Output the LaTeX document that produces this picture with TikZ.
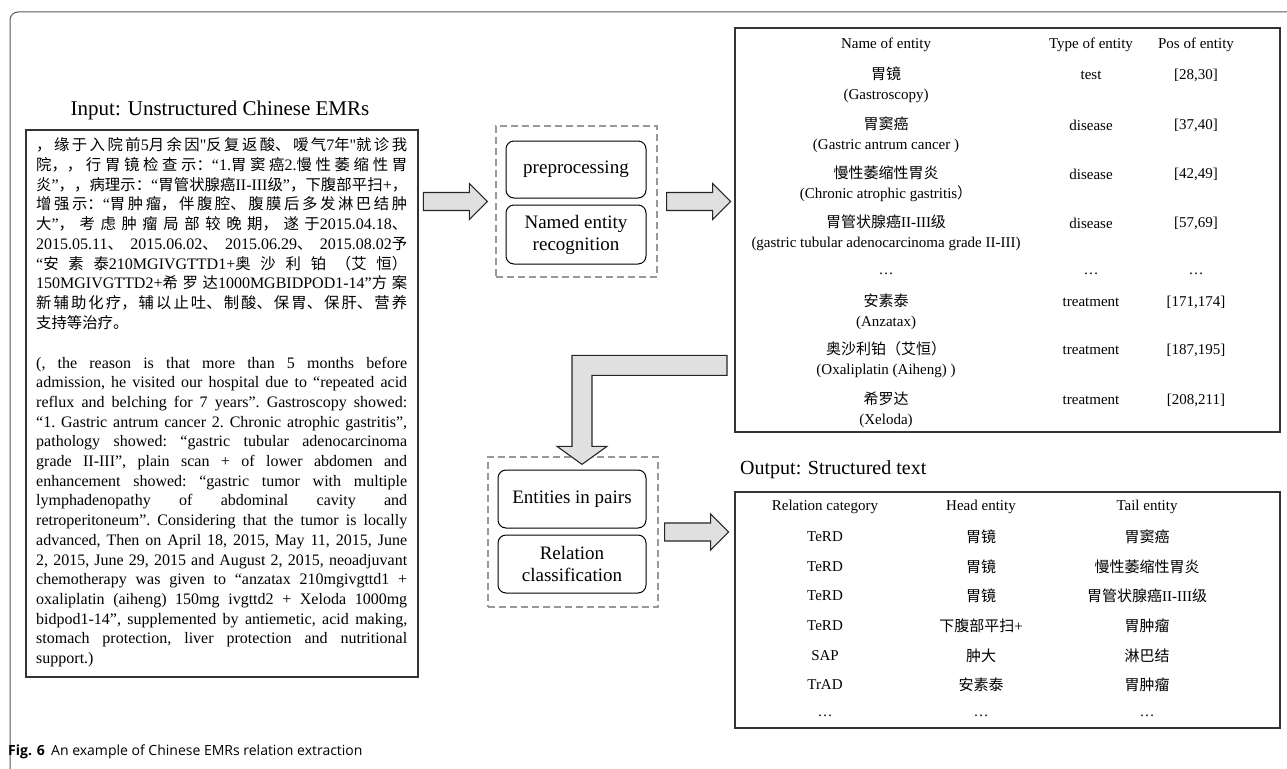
\documentclass[tikz,border=0pt]{standalone}
\usepackage{fontspec}
\setmainfont{Liberation Serif}
\newfontfamily\plainrm{Liberation Serif}
\newfontfamily\zhfont{Noto Sans CJK SC}
\newfontfamily\zhnarrow[Scale=0.96]{Noto Sans CJK SC}
\newfontfamily\capfont{Open Sans}
\usetikzlibrary{positioning}

% CJK characters switch to the CJK face by themselves
\let\zhcur\zhfont
\XeTeXinterchartokenstate=1
\newXeTeXintercharclass\zhclass
\count255="3000
\loop\XeTeXcharclass\count255=\zhclass \ifnum\count255<"303F \advance\count255 by 1 \repeat
\count255="4E00
\loop\XeTeXcharclass\count255=\zhclass \ifnum\count255<"9FFF \advance\count255 by 1 \repeat
\count255="FF00
\loop\XeTeXcharclass\count255=\zhclass \ifnum\count255<"FFEF \advance\count255 by 1 \repeat
\XeTeXinterchartoks 0 \zhclass = {\zhcur}
\XeTeXinterchartoks 4095 \zhclass = {\zhcur}
\XeTeXinterchartoks \zhclass 0 = {\rmfamily}
\XeTeXinterchartoks \zhclass 4095 = {\rmfamily}
\lineskiplimit=-30pt

\begin{document}
\begin{tikzpicture}[x=1pt, y=-1pt,
  tabbox/.style={draw=black!80, line width=1.3pt},
  cell/.style={font=\fontsize{15}{20}\selectfont, align=center, inner sep=0pt},
  title/.style={font=\fontsize{21}{24}\selectfont, inner sep=0pt},
  srctext/.style={anchor=base west, inner sep=0pt, text width=371pt, align=justify,
    font=\fontsize{16}{19.7}\selectfont},
  stagebox/.style={draw=black!40, dash pattern=on 7pt off 4pt, line width=1.3pt},
  stepbox/.style={draw, rounded corners=8pt, line width=1pt, align=center,
    font=\fontsize{19}{22}\selectfont, minimum width=140pt, inner sep=0pt}
]
\tikzset{
  blockarrow/.style={draw=black!85, fill=black!12, line width=1.1pt, line join=miter},
  frame/.style={draw=black!65, line width=1pt, rounded corners=8pt}
}
\fill[white] (0,0) rectangle (1287,768);
\useasboundingbox (0,0) rectangle (1287,768);
\draw[frame] (10,775) -- (10,12) -- (1295,12);

% input record
\node[title] (intitle) at (220,110) {Input: Unstructured Chinese EMRs};
\node[tabbox, line width=1.2pt, minimum width=392pt, minimum height=547pt] (src) at (222,403.5) {};
\node[srctext] (srczh) at (36,150.8) {%
\tolerance=10000 \let\zhcur\zhnarrow
\XeTeXlinebreaklocale "zh"\XeTeXlinebreakskip=0pt plus 3pt minus 0.5pt\relax
，缘于入院前5月余因{\plainrm"}反复返酸、嗳气7年{\plainrm"}就诊我\linebreak
院，，行胃镜检查示：“1.胃窦癌2.慢性萎缩性胃\linebreak
炎”，，病理示：“胃管状腺癌II-III级”，下腹部平扫+，\linebreak
增强示：“胃肿瘤，伴腹腔、腹膜后多发淋巴结肿\linebreak
大”，考虑肿瘤局部较晚期，遂于2015.04.18、\linebreak
2015.05.11、\hskip 0pt plus 3pt 2015.06.02、\hskip 0pt plus 3pt 2015.06.29、\hskip 0pt plus 3pt 2015.08.02予\linebreak
“安素泰210MGIVGTTD1+奥沙利铂（艾恒）\linebreak
150MGIVGTTD2+希罗达1000MGBIDPOD1-14”方案\linebreak
新辅助化疗，辅以止吐、制酸、保胃、保肝、营养\linebreak
支持等治疗。};
\node[srctext] (srcen) at (36,368) {%
\tolerance=10000 \frenchspacing
(, the reason is that more than 5 months before\linebreak
admission, he visited our hospital due to “repeated acid\linebreak
reflux and belching for 7 years”. Gastroscopy showed:\linebreak
“1. Gastric antrum cancer 2. Chronic atrophic gastritis”,\linebreak
pathology showed: “gastric tubular adenocarcinoma\linebreak
grade II-III”, plain scan + of lower abdomen and\linebreak
enhancement showed: “gastric tumor with multiple\linebreak
lymphadenopathy of abdominal cavity and\linebreak
retroperitoneum”. Considering that the tumor is locally\linebreak
advanced, Then on April 18, 2015, May 11, 2015, June\linebreak
2, 2015, June 29, 2015 and August 2, 2015, neoadjuvant\linebreak
chemotherapy was given to “anzatax 210mgivgttd1 +\linebreak
oxaliplatin (aiheng) 150mg ivgttd2 + Xeloda 1000mg\linebreak
bidpod1-14”, supplemented by antiemetic, acid making,\linebreak
stomach protection, liver protection and nutritional\linebreak
support.)};

% first stage
\node[stagebox, minimum width=161pt, minimum height=151pt] (stage1) at (576.5,201.5) {};
\node[stepbox, minimum height=57pt] (prep) at (576,169.5) {preprocessing};
\node[stepbox, minimum height=59pt, below=6pt of prep] (ner) {Named entity\\recognition};

% entity table
\node[tabbox, minimum width=545pt, minimum height=404pt] (enttab) at (1007.5,230) {};
\node[cell] (hname) at (886,45) {Name of entity};
\node[cell] (htype) at (1091,45) {Type of entity};
\node[cell] (hpos) at (1196,45) {Pos of entity};
\node[cell] (name1) at (886,85) {胃镜\\(Gastroscopy)};
\node[cell] (type1) at (1091,75) {test};
\node[cell] (pos1) at (1196,75) {[28,30]};
\node[cell] (name2) at (886,135) {胃窦癌\\(Gastric antrum cancer )};
\node[cell] (type2) at (1091,125) {disease};
\node[cell] (pos2) at (1196,125) {[37,40]};
\node[cell] (name3) at (886,184) {慢性萎缩性胃炎\\(Chronic atrophic gastritis）};
\node[cell] (type3) at (1091,174) {disease};
\node[cell] (pos3) at (1196,174) {[42,49]};
\node[cell] (name4) at (886,233) {胃管状腺癌II-III级\\(gastric tubular adenocarcinoma grade II-III)};
\node[cell] (type4) at (1091,223) {disease};
\node[cell] (pos4) at (1196,223) {[57,69]};
\node[cell] (name5) at (886,274) {…};
\node[cell] (type5) at (1091,274) {…};
\node[cell] (pos5) at (1196,274) {…};
\node[cell] (name6) at (886,312) {安素泰\\(Anzatax)};
\node[cell] (type6) at (1091,302) {treatment};
\node[cell] (pos6) at (1196,302) {[171,174]};
\node[cell] (name7) at (886,360) {奥沙利铂（艾恒）\\(Oxaliplatin (Aiheng) )};
\node[cell] (type7) at (1091,350) {treatment};
\node[cell] (pos7) at (1196,350) {[187,195]};
\node[cell] (name8) at (886,410) {希罗达\\(Xeloda)};
\node[cell] (type8) at (1091,400) {treatment};
\node[cell] (pos8) at (1196,400) {[208,211]};

% second stage
\node[stagebox, minimum width=170pt, minimum height=150pt] (stage2) at (573,532) {};
\node[stepbox, minimum width=148pt, minimum height=58pt] (pairs) at (572,499) {Entities in pairs};
\node[stepbox, minimum width=148pt, minimum height=58pt, below=6pt of pairs] (relcls) {Relation\\classification};

% relation table
\node[title, font=\fontsize{20}{24}\selectfont, anchor=west] (outtitle) at (740,470) {Output: Structured text};
\node[tabbox, minimum width=545pt, minimum height=236pt] (reltab) at (1007.5,610) {};
\node[cell] (hrel) at (825,507) {Relation category};
\node[cell] (hhead) at (981,507) {Head entity};
\node[cell] (htail) at (1147,507) {Tail entity};
\node[cell] (rel1) at (825,537) {TeRD};
\node[cell] (head1) at (981,537) {胃镜};
\node[cell] (tail1) at (1147,537) {胃窦癌};
\node[cell] (rel2) at (825,567) {TeRD};
\node[cell] (head2) at (981,567) {胃镜};
\node[cell] (tail2) at (1147,567) {慢性萎缩性胃炎};
\node[cell] (rel3) at (825,596) {TeRD};
\node[cell] (head3) at (981,596) {胃镜};
\node[cell] (tail3) at (1147,596) {胃管状腺癌II-III级};
\node[cell] (rel4) at (825,626) {TeRD};
\node[cell] (head4) at (981,626) {下腹部平扫+};
\node[cell] (tail4) at (1147,626) {胃肿瘤};
\node[cell] (rel5) at (825,656) {SAP};
\node[cell] (head5) at (981,656) {肿大};
\node[cell] (tail5) at (1147,656) {淋巴结};
\node[cell] (rel6) at (825,685) {TrAD};
\node[cell] (head6) at (981,685) {安素泰};
\node[cell] (tail6) at (1147,685) {胃肿瘤};
\node[cell] (rel7) at (825,716) {…};
\node[cell] (head7) at (981,716) {…};
\node[cell] (tail7) at (1147,716) {…};

% block arrows, drawn back from their tips
\draw[blockarrow] ([xshift=-8pt]stage1.west) -- ++(-18,18) -- ++(0,-9) -- ++(-46,0)
  -- ++(0,-18) -- ++(46,0) -- ++(0,-9) -- cycle;
\draw[blockarrow] ([xshift=73pt]stage1.east) -- ++(-18,18) -- ++(0,-9) -- ++(-46,0)
  -- ++(0,-18) -- ++(46,0) -- ++(0,-9) -- cycle;
\draw[blockarrow] ([xshift=70pt]stage2.east) -- ++(-18,18) -- ++(0,-9) -- ++(-46,0)
  -- ++(0,-18) -- ++(46,0) -- ++(0,-9) -- cycle;
\draw[blockarrow] ([yshift=-8pt,xshift=9pt]stage2.north) -- ++(25,-18) -- ++(-15,0) -- ++(0,-71)
  -- ++(135,0) -- ++(0,-20) -- ++(-155,0) -- ++(0,91) -- ++(-15,0) -- cycle;

\node[anchor=west, inner sep=0pt, font=\capfont\fontsize{14}{16}\selectfont] (caption) at (8,752)
  {\textbf{Fig. 6}\hspace{0.45em}An example of Chinese EMRs relation extraction};
\end{tikzpicture}
\end{document}
